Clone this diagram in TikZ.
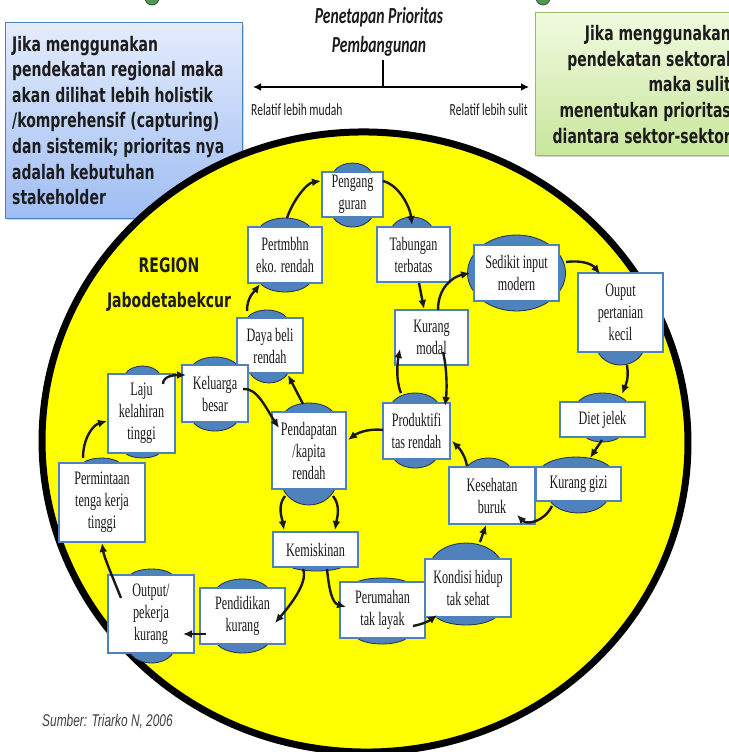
\documentclass[tikz,border=0pt]{standalone}
\usepackage{fontspec}
\usetikzlibrary{arrows.meta,calc,shadows}
\newfontfamily\boxfont{DejaVu Sans}[FakeStretch=0.70]
\newfontfamily\nodefont{Liberation Serif}[FakeStretch=0.64]
\newfontfamily\calfont{Carlito}[FakeStretch=0.68]
\newfontfamily\srcfont{Liberation Sans}[FakeStretch=0.7]
\definecolor{nodeblue}{HTML}{4F81BD}
\definecolor{domeline}{HTML}{1F2F45}
\definecolor{bluetop}{HTML}{E4ECFC}
\definecolor{bluebot}{HTML}{9FBDF3}
\definecolor{greentop}{HTML}{F1FADF}
\definecolor{greenbot}{HTML}{C8E69C}
\definecolor{greenline}{HTML}{9BBB59}
\definecolor{ringyellow}{HTML}{FFFF00}
\definecolor{dotgreen}{HTML}{4E9A50}
\definecolor{txtdark}{HTML}{1C1C1C}
\tikzset{
  nbox/.style={draw=nodeblue, line width=2.5pt, fill=white, inner sep=0pt, align=center,
    font=\nodefont\fontsize{19}{22}\selectfont, text=black!90},
  domefill/.style={fill=nodeblue, draw=domeline, line width=0.8pt},
  arr/.style={line width=2.4pt, -{Latex[length=9pt,width=8pt]}, black!90},
  boldtxt/.style={font=\boxfont\bfseries\fontsize{20}{25.6}\selectfont, text=txtdark},
}
\newcommand{\mydome}[4]{%
  \path[domefill] ({#1-#3},#2) .. controls ({#1-0.6*#3},{#2+1.33*#4}) and ({#1+0.6*#3},{#2+1.33*#4}) .. ({#1+#3},#2) -- cycle;}
\begin{document}
\begin{tikzpicture}[x=1pt,y=-1pt]
\useasboundingbox (0,0) rectangle (728,752);
\fill[white] (0,0) rectangle (728,752);

% top dots
\path[fill=dotgreen, draw=black!70, line width=0.8pt] (152,-2) circle [radius=7pt];
\path[fill=dotgreen, draw=black!70, line width=0.8pt] (543,-2) circle [radius=7pt];

% left blue box
\node[draw=nodeblue, line width=1pt, top color=bluetop, bottom color=bluebot,
  minimum width=237pt, minimum height=195pt, inner sep=0pt,
  drop shadow={opacity=0.35}] (bluebox) at (123.5,120.5) {};
\node[boldtxt, anchor=west, align=left, inner sep=0pt] (bluetext) at (12,120.5)
  {Jika menggunakan\\pendekatan regional maka\\akan dilihat lebih holistik\\/komprehensif (capturing)\\dan sistemik; prioritas nya\\adalah kebutuhan\\stakeholder};

% right green box
\node[draw=greenline, line width=1pt, top color=greentop, bottom color=greenbot,
  minimum width=210pt, minimum height=142pt, inner sep=0pt,
  drop shadow={opacity=0.35}] (greenbox) at (640,84) {};
\node[boldtxt, anchor=east, align=right, inner sep=0pt] (greentext) at (731,84.5)
  {Jika menggunakan\\pendekatan sektoral\\maka sulit\\menentukan prioritas\\diantara sektor-sektor};

% title and axis
\node[font=\calfont\bfseries\itshape\fontsize{23}{29}\selectfont, align=center, text=txtdark] (title) at (379,32)
  {Penetapan Prioritas\\Pembangunan};
\coordinate (axL) at (253,87);
\coordinate (axR) at (529,87);
\coordinate (axM) at (383,87);
\coordinate (axT) at (383,60);
\draw[line width=2.5pt, {Latex[length=8pt,width=8pt]}-{Latex[length=8pt,width=8pt]}] (axL) -- (axR);
\draw[line width=2.5pt] (axM) -- (axT);
\node[anchor=west, inner sep=0pt, font=\calfont\fontsize{17}{20}\selectfont, text=txtdark] (easy) at (251,110) {Relatif lebih mudah};
\node[anchor=east, inner sep=0pt, font=\calfont\fontsize{17}{20}\selectfont, text=txtdark] (hard) at (528,110) {Relatif lebih sulit};

% big region ellipse
\draw[line width=7pt, fill=ringyellow, rotate around={-3:(365,442)}] (365,442) ellipse [x radius=323pt, y radius=310pt];

\node[boldtxt] (region) at (169,265) {REGION};
\node[boldtxt] (jabo) at (169,302) {Jabodetabekcur};

% domes
\mydome{352.5}{172}{19}{-9}
\mydome{352.5}{217}{19.5}{10}
\mydome{285}{227}{25}{-9}
\mydome{285}{283}{25}{9}
\mydome{412}{227}{20}{-10}
\mydome{267}{318}{20}{-8}
\mydome{269}{373}{19}{10}
\path[domefill] (516.5,273) ellipse [x radius=49pt, y radius=38pt];
\mydome{620.5}{352}{22.5}{13}
\mydome{602.5}{402}{24.5}{-9}
\mydome{602.5}{437}{17}{5}
\mydome{576}{467}{34}{-10}
\mydome{578.5}{501}{28.5}{12}
\mydome{488.5}{467}{21.5}{-9}
\mydome{415}{403}{23}{-10}
\mydome{415}{459}{21}{9}
\mydome{466}{559}{34}{-16}
\mydome{466}{617}{30}{8}
\mydome{382}{582}{25}{-4}
\mydome{382}{638}{25}{6}
\mydome{316.5}{567}{26}{4}
\mydome{242.5}{588}{25.5}{-9}
\mydome{242.5}{644}{25.5}{9}
\mydome{151.5}{575}{21.5}{-6}
\mydome{151.5}{653}{21.5}{10}
\mydome{101.5}{463}{18.5}{-5}
\mydome{142.5}{374}{17.5}{-8}
\mydome{142.5}{453}{17.5}{5}
\mydome{215}{365}{22}{-8}
\mydome{215}{422}{22}{9}
\mydome{309}{412}{24}{-9}
\mydome{309}{489}{26}{16}

% boxes
\node[nbox, minimum width=61pt, minimum height=45pt] (pengang) at (352.5,194.5) {Pengang\\guran};
\node[nbox, minimum width=74pt, minimum height=56pt] (pertmbhn) at (285,255) {Pertmbhn\\eko. rendah};
\node[nbox, minimum width=73pt, minimum height=55pt] (tabungan) at (413.5,254.5) {Tabungan\\terbatas};
\node[nbox, minimum width=66pt, minimum height=55pt] (dayabeli) at (270,345.5) {Daya beli\\rendah};
\node[nbox, minimum width=73pt, minimum height=55pt] (kurangmodal) at (431.5,337.5) {Kurang\\modal};
\node[nbox, minimum width=85pt, minimum height=56pt] (sedikit) at (516.5,273) {Sedikit input\\modern};
\node[nbox, minimum width=85pt, minimum height=79pt] (ouput) at (620.5,312.5) {Ouput\\pertanian\\kecil};
\node[nbox, minimum width=85pt, minimum height=35pt] (diet) at (602.5,419.5) {Diet jelek};
\node[nbox, minimum width=85pt, minimum height=34pt] (kuranggizi) at (578.5,484) {Kurang gizi};
\node[nbox, minimum width=86pt, minimum height=57pt] (kesehatan) at (492,495.5) {Kesehatan\\buruk};
\node[nbox, minimum width=67pt, minimum height=56pt] (produktif) at (416.5,431) {Produktifi\\tas rendah};
\node[nbox, minimum width=86pt, minimum height=58pt] (kondisi) at (468,588) {Kondisi hidup\\tak sehat};
\node[nbox, minimum width=85pt, minimum height=56pt] (perumahan) at (382.5,610) {Perumahan\\tak layak};
\node[nbox, minimum width=85pt, minimum height=35pt] (kemiskinan) at (315.5,549.5) {Kemiskinan};
\node[nbox, minimum width=85pt, minimum height=56pt] (pendidikan) at (242.5,616) {Pendidikan\\kurang};
\node[nbox, minimum width=86pt, minimum height=78pt] (output) at (151,614) {Output/\\pekerja\\kurang};
\node[nbox, minimum width=86pt, minimum height=79pt] (permintaan) at (102,502.5) {Permintaan\\tenga kerja\\tinggi};
\node[nbox, minimum width=67pt, minimum height=79pt] (laju) at (141.5,413.5) {Laju\\kelahiran\\tinggi};
\node[nbox, minimum width=66pt, minimum height=57pt] (keluarga) at (215,393.5) {Keluarga\\besar};
\node[nbox, minimum width=74pt, minimum height=77pt] (pendapatan) at (309,450.5) {Pendapatan\\/kapita\\rendah};

% connectors
\draw[arr] ([shift={(-23,-34.5)}]dayabeli.center) .. controls +(0,-14) and +(-6,8) .. ([shift={(-25,29)}]pertmbhn.center);
\draw[arr] ([shift={(2,-37)}]pertmbhn.center) .. controls +(6,-18) and +(-14,2) .. ([shift={(-31.5,-13.5)}]pengang.center);
\draw[arr] ([shift={(30.5,-13.5)}]pengang.center) .. controls +(16,4) and +(-2,-18) .. ([shift={(-1.5,-29.5)}]tabungan.center);
\draw[arr] ([shift={(5.5,28.5)}]tabungan.center) -- ([shift={(-7.5,-28.5)}]kurangmodal.center);
\draw[arr] ([shift={(6.5,-27.5)}]kurangmodal.center) .. controls +(0,-22) and +(-18,4) .. ([shift={(-46.5,0)}]sedikit.center);
\draw[arr] ([shift={(49.5,-11)}]sedikit.center) .. controls +(16,-2) and +(-8,-10) .. ([shift={(-20.5,-38.5)}]ouput.center);
\draw[arr] ([shift={(6.5,52.5)}]ouput.center) .. controls +(2,14) and +(4,-10) .. ([shift={(19.5,-25.5)}]diet.center);
\draw[arr] ([shift={(-0.5,20.5)}]diet.center) -- ([shift={(11.5,-26)}]kuranggizi.center);
\draw[arr] ([shift={(-26.5,22)}]kuranggizi.center) .. controls +(-8,16) and +(10,10) .. ([shift={(25,19.5)}]kesehatan.center);
\draw[arr] ([shift={(-25,-29.5)}]kesehatan.center) .. controls +(-2,-12) and +(6,6) .. ([shift={(35.5,10)}]produktif.center);
\draw[arr] ([shift={(12,-46)}]kondisi.center) -- ([shift={(-6,29.5)}]kesehatan.center);
\draw[arr] ([shift={(30.5,16)}]perumahan.center) .. controls +(10,-2) and +(-8,6) .. ([shift={(-31,27)}]kondisi.center);
\draw[arr] ([shift={(11.5,19.5)}]kemiskinan.center) .. controls +(2,20) and +(-14,-4) .. ([shift={(-36.5,-3)}]perumahan.center);
\draw[arr] ([shift={(-12.5,19.5)}]kemiskinan.center) .. controls +(6,14) and +(12,-14) .. ([shift={(32.5,7)}]pendidikan.center);
\draw[arr] ([shift={(-36.5,18)}]pendidikan.center) -- ([shift={(32,20)}]output.center);
\draw[arr] ([shift={(-30,-16)}]output.center) .. controls +(-8,-20) and +(2,14) .. ([shift={(0,40.5)}]permintaan.center);
\draw[arr] ([shift={(-19,-44.5)}]permintaan.center) .. controls +(0,-20) and +(-14,4) .. ([shift={(-34.5,7.5)}]laju.center);
\draw[arr] ([shift={(21.5,-29.5)}]laju.center) .. controls +(0,-8) and +(-12,0) .. ([shift={(-29,-18.5)}]keluarga.center);
\draw[arr] ([shift={(28,-4.5)}]keluarga.center) .. controls +(14,-2) and +(-12,-18) .. ([shift={(-30,-22.5)}]pendapatan.center);
\draw[arr] ([shift={(-6,-46.5)}]pendapatan.center) -- ([shift={(18,29.5)}]dayabeli.center);
\draw[arr] ([shift={(-24,45.5)}]pendapatan.center) .. controls +(-8,10) and +(-2,-12) .. ([shift={(-31.5,-19.5)}]kemiskinan.center);
\draw[arr] ([shift={(24,45.5)}]pendapatan.center) .. controls +(8,10) and +(2,-12) .. ([shift={(19.5,-19.5)}]kemiskinan.center);
\draw[arr] ([shift={(-33.5,-1)}]produktif.center) .. controls +(-16,-2) and +(8,-6) .. ([shift={(39,-10.5)}]pendapatan.center);
\draw[arr] ([shift={(-15.5,-38)}]produktif.center) .. controls +(-6,-14) and +(-2,10) .. ([shift={(-31.5,11.5)}]kurangmodal.center);
\draw[arr] ([shift={(11.5,14.5)}]kurangmodal.center) .. controls +(4,16) and +(2,-16) .. ([shift={(28.5,-25)}]produktif.center);

\node[anchor=west, inner sep=0pt, font=\srcfont\itshape\fontsize{17}{20}\selectfont, text=black!75] (src) at (42,721) {Sumber: Triarko N, 2006};
\end{tikzpicture}
\end{document}
